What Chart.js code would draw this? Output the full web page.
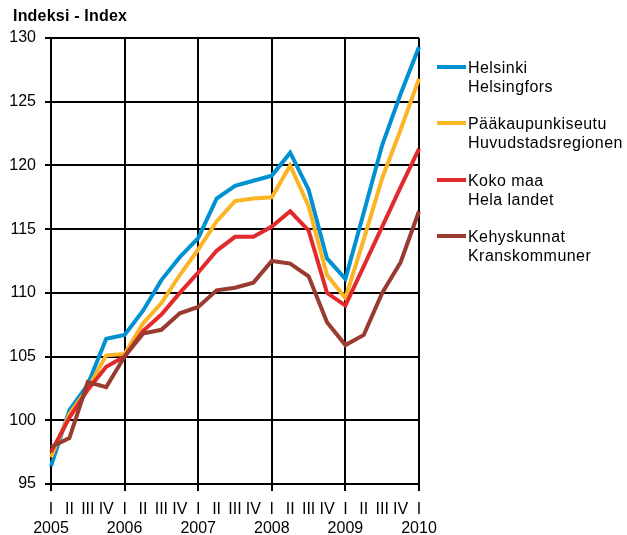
<!DOCTYPE html>
<html>
<head>
<meta charset="utf-8">
<script src="https://cdn.jsdelivr.net/npm/chart.js@4"></script>
<style>
  body { margin: 0; background: #fff; }
  #wrap { position: relative; width: 627px; height: 535px; font-family: "Liberation Sans", Arial, sans-serif; }
  #chart { position: absolute; left: 0; top: 0; }
  #title { position: absolute; left: 13px; top: 7px; font-weight: bold; font-size: 16px; color: #000; letter-spacing: 0.2px; }
  .leg { position: absolute; left: 437px; font-size: 16px; line-height: 19px; color: #000; letter-spacing: 0.45px; }
  .leg span.sw { position: absolute; left: 0; top: 7px; width: 29px; height: 4px; }
  .leg div.txt { margin-left: 31px; white-space: nowrap; }
</style>
</head>
<body>
<div id="wrap">
  <canvas id="chart" width="627" height="535"></canvas>
  <div id="title">Indeksi - Index</div>
  <div id="legend"></div>
</div>
<script>
// quarters 2005 I .. 2010 I
const quarters = ['I', 'II', 'III', 'IV'];
const years = ['2005', '2006', '2007', '2008', '2009', '2010'];

const helsinki = [96.4, 100.8, 102.8, 106.4, 106.7, 108.6, 111.0, 112.8, 114.3, 117.4, 118.4, 118.8, 119.2, 121.0, 118.1, 112.7, 111.1, 116.3, 121.6, 125.6, 129.3];
const paakaupunkiseutu = [97.1, 100.5, 102.5, 105.1, 105.2, 107.6, 109.2, 111.4, 113.4, 115.6, 117.2, 117.4, 117.5, 120.0, 116.8, 111.4, 109.6, 114.2, 119.0, 122.8, 126.8];
const kokoMaa = [97.5, 100.2, 102.4, 104.2, 105.0, 107.0, 108.3, 110.0, 111.6, 113.3, 114.4, 114.4, 115.2, 116.4, 114.9, 110.0, 109.0, 112.1, 115.2, 118.3, 121.3];
const kehyskunnat = [97.9, 98.6, 103.0, 102.6, 105.0, 106.8, 107.1, 108.4, 108.9, 110.2, 110.4, 110.8, 112.5, 112.3, 111.3, 107.7, 105.9, 106.7, 110.0, 112.4, 116.4];

const seriesNames = [
    ['Helsinki', 'Helsingfors'],
    ['Pääkaupunkiseutu', 'Huvudstadsregionen'],
    ['Koko maa', 'Hela landet'],
    ['Kehyskunnat', 'Kranskommuner']
];
const seriesColors = ['#0091D2', '#FBB424', '#E2292B', '#9A3B30'];

// labels: quarter, plus year under every I
var labels = [];
for (var i = 0; i < helsinki.length; i++) {
    var q = quarters[i % 4];
    if (i % 4 == 0) {
        labels.push([q, years[i / 4]]);
    } else {
        labels.push(q);
    }
}

// html legend
var legTops = [58, 114, 171, 227];
var legendHtml = '';
seriesNames.forEach(function (n, idx) {
    legendHtml += '<div class="leg" style="top:' + legTops[idx] + 'px"><span class="sw" style="background:' + seriesColors[idx] + '"></span>'
        + '<div class="txt">' + n[0] + '</div><div class="txt">' + n[1] + '</div></div>';
});
document.getElementById('legend').innerHTML = legendHtml;

Chart.defaults.font.family = '"Liberation Sans", Arial, sans-serif';
Chart.defaults.font.size = 16;
Chart.defaults.color = '#000';

const allData = [helsinki, paakaupunkiseutu, kokoMaa, kehyskunnat];
const drawOrder = [3, 2, 1, 0];

var datasets = allData.map(function (d, idx) {
    return {
        label: seriesNames[idx].join(' '),
        data: d,
        borderColor: seriesColors[idx],
        backgroundColor: seriesColors[idx],
        borderWidth: 4,
        pointRadius: 0,
        tension: 0,
        fill: false,
        order: drawOrder[idx]
    };
});

const ctx = document.getElementById('chart');
new Chart(ctx, {
    type: 'line',
    data: { labels: labels, datasets: datasets },
    options: {
        responsive: false,
        animation: false,
        layout: { padding: { left: 0, right: 208, top: 38, bottom: 0 } },
        plugins: {
            legend: { display: false },
            tooltip: { enabled: false }
        },
        scales: {
            x: {
                offset: false,
                afterFit: function (axis) { axis.height = 51; },
                border: { display: true, color: '#000', width: 2 },
                grid: {
                    lineWidth: 2,
                    tickLength: 7,
                    color: function (c) {
                        return c.index % 4 == 0 ? '#000' : 'rgba(0,0,0,0)';
                    }
                },
                ticks: {
                    autoSkip: false,
                    maxRotation: 0,
                    minRotation: 0,
                    padding: 9,
                    color: '#000'
                }
            },
            y: {
                min: 95,
                max: 130,
                afterFit: function (axis) { axis.width = 51; },
                border: { display: true, color: '#000', width: 2 },
                grid: { color: '#000', lineWidth: 2, tickLength: 6 },
                ticks: { stepSize: 5, padding: 9, color: '#000' }
            }
        }
    }
});
</script>
</body>
</html>
